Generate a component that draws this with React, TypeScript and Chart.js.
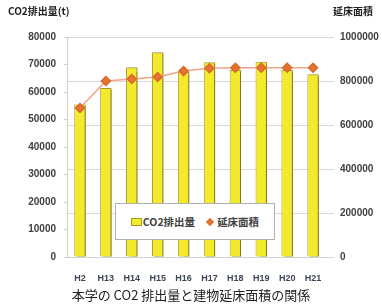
import React, { useEffect, useRef } from "react";
import { Chart, registerables } from "chart.js";

Chart.register(...registerables);

const categories = ["H2", "H13", "H14", "H15", "H16", "H17", "H18", "H19", "H20", "H21"];
const co2Emissions = [55500, 61500, 69000, 74500, 67300, 70800, 68000, 71000, 68000, 66500];
const floorArea = [677000, 800000, 809000, 818000, 845000, 858000, 860000, 860000, 860000, 860000];
const co2Label = "CO2排出量";
const areaLabel = "延床面積";
const leftTitle = "CO2排出量(t)";
const rightTitle = "延床面積";
const caption = "本学の CO2 排出量と建物延床面積の関係";

const W = 382;
const H = 304;
const PLOT_L = 67;
const PLOT_R = 326;
const PLOT_T = 37;
const PLOT_B = 257;
const PAD_B = 10;

const tickFont = { family: '"Liberation Sans", Arial, sans-serif', size: 10, weight: "bold" as const };
const plain = (v: any) => String(v);

export default function App() {
  const ref = useRef<HTMLCanvasElement | null>(null);

  useEffect(() => {
    if (!ref.current) return;
    const shadowPlugin = {
      id: "barShadow",
      beforeDatasetDraw(chart: any, args: any) {
        if (args.index === 1) {
          const ctx = chart.ctx;
          ctx.save();
          ctx.shadowColor = "rgba(120,110,30,0.85)";
          ctx.shadowOffsetX = 2.5;
          ctx.shadowOffsetY = 1;
          ctx.shadowBlur = 1;
        }
      },
      afterDatasetDraw(chart: any, args: any) {
        if (args.index === 1) chart.ctx.restore();
      },
    };
    const chart = new Chart(ref.current, {
      type: "bar",
      data: {
        labels: categories,
        datasets: [
          {
            type: "line",
            label: areaLabel,
            data: floorArea,
            yAxisID: "y1",
            borderColor: "#f2a487",
            borderWidth: 1.5,
            backgroundColor: "#e4742f",
            pointBackgroundColor: "#e4742f",
            pointBorderColor: "#d8692a",
            pointStyle: "rectRot",
            pointRadius: 4.5,
            tension: 0,
            order: 0,
          } as any,
          {
            type: "bar",
            label: co2Label,
            data: co2Emissions,
            yAxisID: "y",
            backgroundColor: "#f4ea2c",
            borderColor: "#a89a2a",
            borderWidth: 1,
            barPercentage: 0.44,
            categoryPercentage: 1,
            order: 1,
          } as any,
        ],
      },
      options: {
        responsive: false,
        animation: false,
        layout: { padding: { left: 0, right: 0, top: PLOT_T, bottom: PAD_B } },
        plugins: { legend: { display: false }, tooltip: { enabled: false } },
        scales: {
          x: {
            grid: { display: false, drawTicks: false, tickLength: 0 },
            border: { display: true, color: "#d0d0d0" },
            ticks: { color: "#3c4656", font: { ...tickFont, size: 9 }, padding: 16, maxRotation: 0, minRotation: 0, autoSkip: false },
            afterFit(scale: any) {
              scale.height = H - PLOT_B - PAD_B;
            },
          },
          y: {
            position: "left",
            min: 0,
            max: 80000,
            ticks: { stepSize: 10000, color: "#404040", font: tickFont, padding: 8, callback: plain },
            grid: { drawOnChartArea: false, drawTicks: true, tickLength: 3, color: "#d0d0d0" },
            border: { display: true, color: "#d0d0d0" },
            afterFit(scale: any) {
              scale.width = PLOT_L;
            },
          },
          y1: {
            position: "right",
            min: 0,
            max: 1000000,
            ticks: { stepSize: 200000, color: "#404040", font: tickFont, padding: 6, callback: plain },
            grid: { drawOnChartArea: true, drawTicks: true, tickLength: 8, color: "#d9d9d9" },
            border: { display: false },
            afterFit(scale: any) {
              scale.width = W - PLOT_R;
            },
          },
        },
      } as any,
      plugins: [shadowPlugin],
    });
    return () => chart.destroy();
  }, []);

  const jp = '"Noto Sans CJK JP", sans-serif';
  return (
    <div style={{ position: "fixed", left: 0, top: 0, width: W, height: H, background: "#fff", overflow: "hidden" }}>
      <canvas ref={ref} width={W} height={H} style={{ position: "absolute", left: 0, top: 0, width: W, height: H }} />
      <div style={{ position: "absolute", left: 8, top: 3, fontFamily: jp, fontWeight: 700, fontSize: 10, color: "#222", whiteSpace: "nowrap" }}>
        {leftTitle}
      </div>
      <div style={{ position: "absolute", left: 333, top: 3, fontFamily: jp, fontWeight: 700, fontSize: 10, color: "#222", whiteSpace: "nowrap" }}>
        {rightTitle}
      </div>
      <div
        style={{
          position: "absolute",
          left: 115,
          top: 203,
          width: 160,
          height: 37,
          boxSizing: "border-box",
          background: "#fff",
          border: "1px solid #b0b0b0",
          display: "flex",
          alignItems: "center",
          justifyContent: "center",
          gap: 12,
          fontFamily: jp,
          fontWeight: 700,
          fontSize: 10.5,
          color: "#404040",
          whiteSpace: "nowrap",
        }}
      >
        <span style={{ display: "flex", alignItems: "center" }}>
          <span style={{ display: "inline-block", width: 9, height: 6, background: "#f4ea2c", border: "1px solid #a89a2a", marginRight: 1 }} />
          {co2Label}
        </span>
        <span style={{ display: "flex", alignItems: "center" }}>
          <span style={{ display: "inline-block", width: 6, height: 6, background: "#e4742f", transform: "rotate(45deg)", marginRight: 4 }} />
          {areaLabel}
        </span>
      </div>
      <div
        style={{
          position: "absolute",
          left: 0,
          width: W,
          top: 287,
          textAlign: "center",
          fontFamily: jp,
          fontSize: 13,
          color: "#222",
          whiteSpace: "nowrap",
          lineHeight: "16px",
        }}
      >
        {caption}
      </div>
    </div>
  );
}
